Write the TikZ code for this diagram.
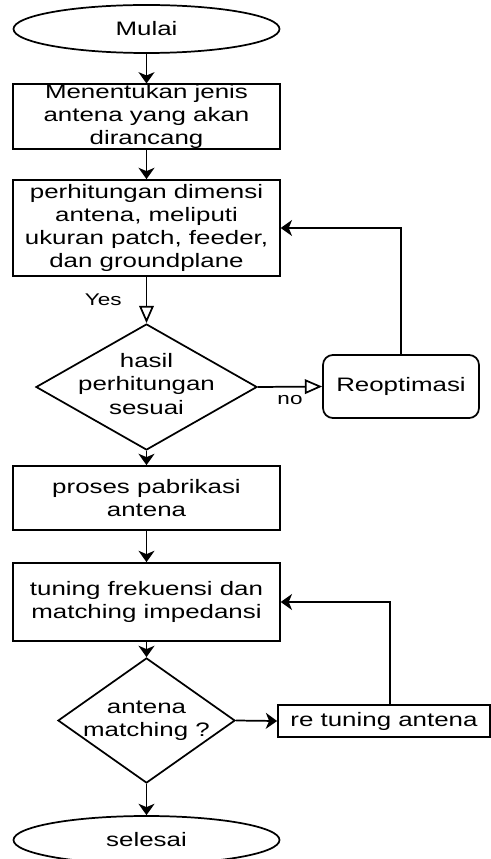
\documentclass[tikz,border=0pt]{standalone}
\usepackage{fontspec}
\setmainfont[FakeStretch=1.33]{Liberation Sans}
\usetikzlibrary{shapes.geometric,arrows.meta}

\begin{document}
\begin{tikzpicture}[x=0.75pt,y=-0.75pt,line width=1.3pt,
    every node/.style={font=\fontsize{14.6}{17.3}\selectfont,align=center,inner sep=0pt},
    terminal/.style={draw,ellipse,minimum width=199.5pt,minimum height=36pt},
    proses/.style={draw,rectangle,minimum width=200pt},
    decision/.style={draw,diamond},
    note/.style={font=\fontsize{12.7}{15}\selectfont},
    arr/.style={-{Stealth[length=8.5pt,width=12pt,inset=2.5pt]}},
    opn/.style={-{Triangle[open,length=13pt,width=11pt,fill=white]}}]
    \useasboundingbox (0,0) rectangle (491,859);
    \node[terminal] (mulai) at (146.5,29) {Mulai};
    \node[proses,minimum height=47.3pt] (jenis) at (146.5,116.5) {Menentukan jenis\\antena yang akan\\dirancang};
    \node[proses,minimum height=72pt] (hitung) at (146.5,228) {perhitungan dimensi\\antena, meliputi\\ukuran patch, feeder,\\dan groundplane};
    \node[decision,minimum width=165.8pt,minimum height=94.5pt] (cek1) at (146.5,387) {};
    \node (cek1t) at (146.5,384) {hasil\\perhitungan\\sesuai};
    \node[draw,rounded corners=7.5pt,minimum width=117pt,minimum height=47.3pt] (reopt) at (401,386.5) {Reoptimasi};
    \node[proses,minimum height=48pt] (pabrik) at (146.5,498) {proses pabrikasi\\antena};
    \node[proses,minimum height=58.5pt] (tuning) at (146.5,602) {tuning frekuensi dan\\matching impedansi};
    \node[decision,minimum width=132.8pt,minimum height=93.8pt] (cek2) at (146.5,720.5) {};
    \node (cek2t) at (146.5,720.5) {antena\\matching ?};
    \node[draw,minimum width=159pt,minimum height=24pt] (retune) at (384,721) {re tuning antena};
    \node[terminal] (selesai) at (146.5,840) {selesai};
    \draw[arr] (mulai) -- (jenis);
    \draw[arr] (jenis) -- (hitung);
    \draw[opn] (hitung) -- node[note,left=18pt] {Yes} (cek1);
    \draw[opn] (cek1.east) -- node[note,below=6pt] {no} (reopt.west);
    \draw[arr] (reopt.north) |- (hitung.east);
    \draw[arr] (cek1.south) -- (pabrik);
    \draw[arr] (pabrik) -- (tuning);
    \draw[arr] (tuning) -- (cek2.north);
    \draw[arr] (cek2.east) -- (retune.west);
    \draw[arr] ([xshift=4.5pt]retune.north) |- (tuning.east);
    \draw[arr] (cek2.south) -- (selesai);
\end{tikzpicture}
\end{document}
